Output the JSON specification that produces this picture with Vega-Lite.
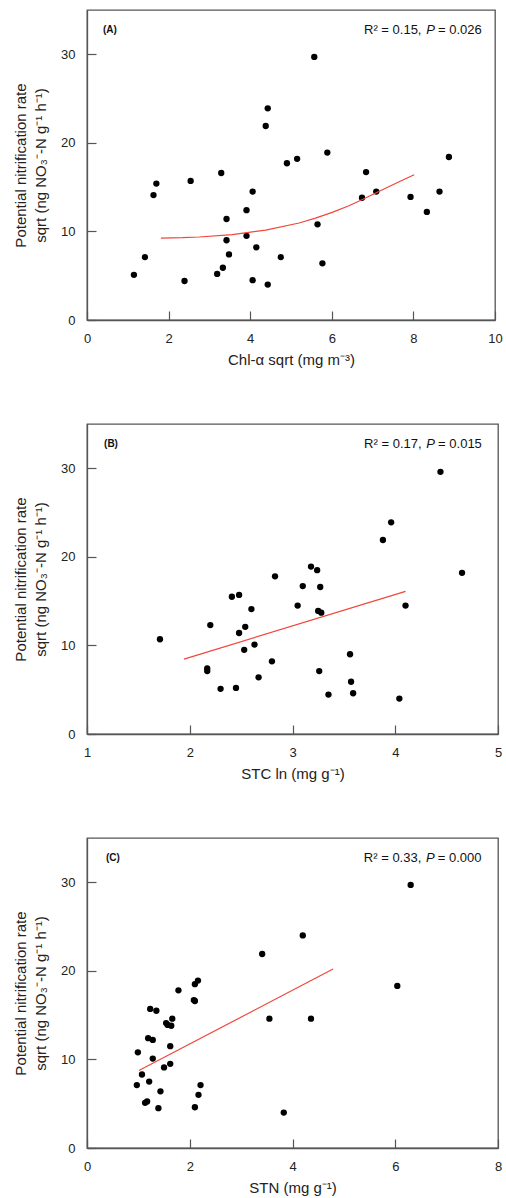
{
  "$schema": "https://vega.github.io/schema/vega-lite/v6.json",
  "padding": {"left": 12, "top": 9, "right": 5, "bottom": 2},
  "spacing": 55,
  "datasets": {
    "ptsA": [
      {"x":5.57,"y":29.7},{"x":4.43,"y":23.9},{"x":4.38,"y":21.9},{"x":5.89,"y":18.9},{"x":4.90,"y":17.7},{"x":5.15,"y":18.2},{"x":8.87,"y":18.4},{"x":3.29,"y":16.6},{"x":6.84,"y":16.7},{"x":1.70,"y":15.4},{"x":2.54,"y":15.7},{"x":1.63,"y":14.1},{"x":4.06,"y":14.5},{"x":7.09,"y":14.5},{"x":8.64,"y":14.5},{"x":6.74,"y":13.8},{"x":7.93,"y":13.9},{"x":8.33,"y":12.2},{"x":3.91,"y":12.4},{"x":3.42,"y":11.4},{"x":5.65,"y":10.8},{"x":3.91,"y":9.5},{"x":3.42,"y":9.0},{"x":4.15,"y":8.2},{"x":3.48,"y":7.4},{"x":1.42,"y":7.1},{"x":4.75,"y":7.1},{"x":5.77,"y":6.4},{"x":3.33,"y":5.9},{"x":3.19,"y":5.2},{"x":1.15,"y":5.1},{"x":4.06,"y":4.5},{"x":2.39,"y":4.4},{"x":4.43,"y":4.0}
    ],
    "ptsB": [
      {"x":4.44,"y":29.6},{"x":3.96,"y":23.9},{"x":3.88,"y":21.9},{"x":4.65,"y":18.2},{"x":3.18,"y":18.9},{"x":3.24,"y":18.5},{"x":2.83,"y":17.8},{"x":3.10,"y":16.7},{"x":3.27,"y":16.6},{"x":2.41,"y":15.5},{"x":2.48,"y":15.7},{"x":3.05,"y":14.5},{"x":4.10,"y":14.5},{"x":2.60,"y":14.1},{"x":3.25,"y":13.9},{"x":3.28,"y":13.7},{"x":2.20,"y":12.3},{"x":2.54,"y":12.1},{"x":2.48,"y":11.4},{"x":1.71,"y":10.7},{"x":2.63,"y":10.1},{"x":2.53,"y":9.5},{"x":3.56,"y":9.0},{"x":2.80,"y":8.2},{"x":2.17,"y":7.4},{"x":2.17,"y":7.1},{"x":3.26,"y":7.1},{"x":2.67,"y":6.4},{"x":3.57,"y":5.9},{"x":2.30,"y":5.1},{"x":2.45,"y":5.2},{"x":3.35,"y":4.45},{"x":3.59,"y":4.6},{"x":4.04,"y":4.0}
    ],
    "ptsC": [
      {"x":6.30,"y":29.7},{"x":4.20,"y":24.0},{"x":3.41,"y":21.9},{"x":6.04,"y":18.3},{"x":2.16,"y":18.9},{"x":2.10,"y":18.5},{"x":1.78,"y":17.8},{"x":2.08,"y":16.7},{"x":2.10,"y":16.6},{"x":1.23,"y":15.7},{"x":1.35,"y":15.5},{"x":1.66,"y":14.6},{"x":3.55,"y":14.6},{"x":4.36,"y":14.6},{"x":1.54,"y":14.1},{"x":1.57,"y":13.9},{"x":1.64,"y":13.8},{"x":1.19,"y":12.4},{"x":1.28,"y":12.2},{"x":1.62,"y":11.5},{"x":0.99,"y":10.8},{"x":1.28,"y":10.1},{"x":1.62,"y":9.5},{"x":1.50,"y":9.1},{"x":1.07,"y":8.3},{"x":1.21,"y":7.5},{"x":0.97,"y":7.1},{"x":2.21,"y":7.1},{"x":1.43,"y":6.4},{"x":2.17,"y":6.0},{"x":1.13,"y":5.1},{"x":1.17,"y":5.25},{"x":2.10,"y":4.6},{"x":1.39,"y":4.5},{"x":3.83,"y":4.0}
    ],
    "fitA": [
      {"x":1.81,"y":9.25},{"x":2.34,"y":9.29},{"x":2.75,"y":9.37},{"x":3.56,"y":9.63},{"x":4.38,"y":10.15},{"x":5.20,"y":10.95},{"x":5.60,"y":11.5},{"x":6.01,"y":12.15},{"x":6.42,"y":12.9},{"x":6.75,"y":13.6},{"x":7.24,"y":14.7},{"x":7.65,"y":15.6},{"x":8.02,"y":16.4}
    ],
    "fitB": [{"x":1.944,"y":8.46},{"x":4.10,"y":16.1}],
    "fitC": [{"x":1.01,"y":8.75},{"x":4.79,"y":20.2}]
  },
  "config": {
    "font": "Liberation Sans",
    "view": {"stroke": "#555", "strokeWidth": 1.3},
    "axis": {
      "grid": false,
      "domainColor": "#555",
      "domainWidth": 1.3,
      "tickColor": "#555",
      "tickWidth": 1.2,
      "tickSize": -9,
      "labelPadding": 21,
      "labelFontSize": 13,
      "labelColor": "#222",
      "labelFont": "Liberation Sans",
      "labelFlush": false,
      "format": "d",
      "titleFont": "Liberation Sans",
      "titleFontSize": 15,
      "titleFontWeight": "normal",
      "titleColor": "#222"
    },
    "axisY": {"titlePadding": 12, "titleLineHeight": 20},
    "axisX": {"titlePadding": 7},
    "text": {"font": "Liberation Sans", "color": "#111"}
  },
  "vconcat": [
    {
      "width": 408, "height": 310,
      "layer": [
        {
          "data": {"name": "ptsA"},
          "mark": {"type": "circle", "color": "black", "opacity": 1, "size": 40},
          "encoding": {
            "x": {"field": "x", "type": "quantitative", "scale": {"domain": [0, 10]}, "axis": {"values": [0, 2, 4, 6, 8, 10], "title": "Chl-α sqrt (mg m⁻³)"}},
            "y": {"field": "y", "type": "quantitative", "scale": {"domain": [0, 35]}, "axis": {"values": [0, 10, 20, 30], "title": ["Potential nitrification rate", "sqrt (ng NO₃⁻-N g⁻¹ h⁻¹)"]}}
          }
        },
        {
          "data": {"name": "fitA"},
          "mark": {"type": "line", "color": "#f0463c", "strokeWidth": 1.2},
          "encoding": {"x": {"field": "x", "type": "quantitative"}, "y": {"field": "y", "type": "quantitative"}}
        },
        {
          "data": {"values": [{}]},
          "mark": {"type": "text", "text": "(A)", "align": "left", "fontWeight": "bold", "fontSize": 10},
          "encoding": {"x": {"datum": 0.39, "type": "quantitative"}, "y": {"datum": 32.7, "type": "quantitative"}}
        },
        {
          "data": {"values": [{}]},
          "mark": {"type": "text", "text": "R² = 0.15,", "align": "left", "fontSize": 13},
          "encoding": {"x": {"datum": 6.79, "type": "quantitative"}, "y": {"datum": 32.7, "type": "quantitative"}}
        },
        {
          "data": {"values": [{}]},
          "mark": {"type": "text", "text": "P", "align": "center", "fontSize": 13, "fontStyle": "italic"},
          "encoding": {"x": {"datum": 8.42, "type": "quantitative"}, "y": {"datum": 32.7, "type": "quantitative"}}
        },
        {
          "data": {"values": [{}]},
          "mark": {"type": "text", "text": "= 0.026", "align": "right", "fontSize": 13},
          "encoding": {"x": {"datum": 9.674, "type": "quantitative"}, "y": {"datum": 32.7, "type": "quantitative"}}
        }
      ]
    },
    {
      "width": 411, "height": 310,
      "layer": [
        {
          "data": {"name": "ptsB"},
          "mark": {"type": "circle", "color": "black", "opacity": 1, "size": 40},
          "encoding": {
            "x": {"field": "x", "type": "quantitative", "scale": {"domain": [1, 5]}, "axis": {"values": [1, 2, 3, 4, 5], "title": "STC ln (mg g⁻¹)"}},
            "y": {"field": "y", "type": "quantitative", "scale": {"domain": [0, 35]}, "axis": {"values": [0, 10, 20, 30], "title": ["Potential nitrification rate", "sqrt (ng NO₃⁻-N g⁻¹ h⁻¹)"]}}
          }
        },
        {
          "data": {"name": "fitB"},
          "mark": {"type": "line", "color": "#f0463c", "strokeWidth": 1.2},
          "encoding": {"x": {"field": "x", "type": "quantitative"}, "y": {"field": "y", "type": "quantitative"}}
        },
        {
          "data": {"values": [{}]},
          "mark": {"type": "text", "text": "(B)", "align": "left", "fontWeight": "bold", "fontSize": 10},
          "encoding": {"x": {"datum": 1.166, "type": "quantitative"}, "y": {"datum": 32.7, "type": "quantitative"}}
        },
        {
          "data": {"values": [{}]},
          "mark": {"type": "text", "text": "R² = 0.17,", "align": "left", "fontSize": 13},
          "encoding": {"x": {"datum": 3.697, "type": "quantitative"}, "y": {"datum": 32.7, "type": "quantitative"}}
        },
        {
          "data": {"values": [{}]},
          "mark": {"type": "text", "text": "P", "align": "center", "fontSize": 13, "fontStyle": "italic"},
          "encoding": {"x": {"datum": 4.345, "type": "quantitative"}, "y": {"datum": 32.7, "type": "quantitative"}}
        },
        {
          "data": {"values": [{}]},
          "mark": {"type": "text", "text": "= 0.015", "align": "right", "fontSize": 13},
          "encoding": {"x": {"datum": 4.843, "type": "quantitative"}, "y": {"datum": 32.7, "type": "quantitative"}}
        }
      ]
    },
    {
      "width": 411, "height": 310,
      "layer": [
        {
          "data": {"name": "ptsC"},
          "mark": {"type": "circle", "color": "black", "opacity": 1, "size": 40},
          "encoding": {
            "x": {"field": "x", "type": "quantitative", "scale": {"domain": [0, 8]}, "axis": {"values": [0, 2, 4, 6, 8], "title": "STN (mg g⁻¹)"}},
            "y": {"field": "y", "type": "quantitative", "scale": {"domain": [0, 35]}, "axis": {"values": [0, 10, 20, 30], "title": ["Potential nitrification rate", "sqrt (ng NO₃⁻-N g⁻¹ h⁻¹)"]}}
          }
        },
        {
          "data": {"name": "fitC"},
          "mark": {"type": "line", "color": "#f0463c", "strokeWidth": 1.2},
          "encoding": {"x": {"field": "x", "type": "quantitative"}, "y": {"field": "y", "type": "quantitative"}}
        },
        {
          "data": {"values": [{}]},
          "mark": {"type": "text", "text": "(C)", "align": "left", "fontWeight": "bold", "fontSize": 10},
          "encoding": {"x": {"datum": 0.37, "type": "quantitative"}, "y": {"datum": 32.7, "type": "quantitative"}}
        },
        {
          "data": {"values": [{}]},
          "mark": {"type": "text", "text": "R² = 0.33,", "align": "left", "fontSize": 13},
          "encoding": {"x": {"datum": 5.389, "type": "quantitative"}, "y": {"datum": 32.7, "type": "quantitative"}}
        },
        {
          "data": {"values": [{}]},
          "mark": {"type": "text", "text": "P", "align": "center", "fontSize": 13, "fontStyle": "italic"},
          "encoding": {"x": {"datum": 6.683, "type": "quantitative"}, "y": {"datum": 32.7, "type": "quantitative"}}
        },
        {
          "data": {"values": [{}]},
          "mark": {"type": "text", "text": "= 0.000", "align": "right", "fontSize": 13},
          "encoding": {"x": {"datum": 7.679, "type": "quantitative"}, "y": {"datum": 32.7, "type": "quantitative"}}
        }
      ]
    }
  ]
}
